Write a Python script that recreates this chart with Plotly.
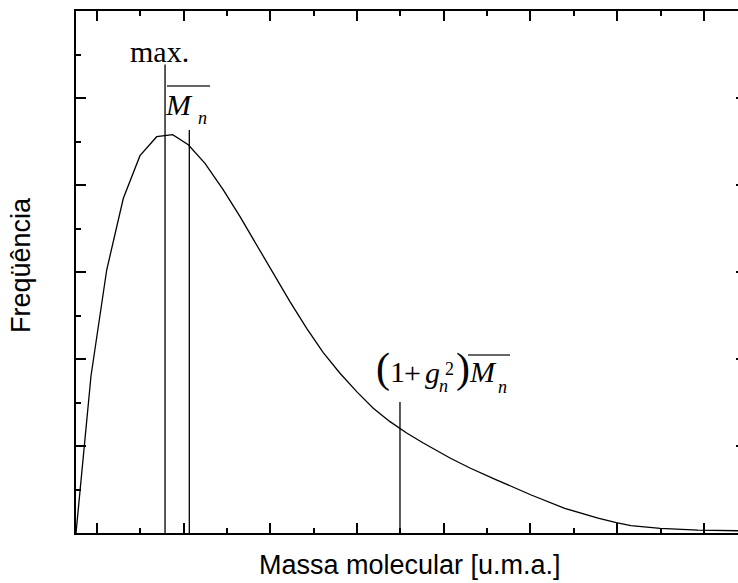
import plotly.graph_objects as go

# ---- data (schematic molecular-mass distribution) ----
mass = [0.0, 0.173, 0.354, 0.546, 0.738, 0.931, 1.115, 1.295, 1.488, 1.699, 1.892,
        2.084, 2.276, 2.468, 2.661, 2.852, 3.045, 3.238, 3.429, 3.622, 3.814, 4.006,
        4.314, 4.544, 4.829, 5.251, 5.637, 6.021, 6.232, 6.401, 6.739, 7.174, 7.636]
freq = [0.0, 1.805, 3.023, 3.847, 4.337, 4.555, 4.578, 4.463, 4.249, 3.943, 3.636,
        3.310, 2.985, 2.659, 2.353, 2.073, 1.836, 1.625, 1.434, 1.280, 1.149, 1.034,
        0.862, 0.747, 0.620, 0.437, 0.284, 0.170, 0.119, 0.084, 0.054, 0.034, 0.026]

ref_names = ["max.", "Mn", "(1+g2)Mn"]
ref_mass = [1.027, 1.307, 3.737]
ref_top = [5.385, 4.632, 1.506]

x_major = [0.242, 1.242, 2.242, 3.242, 4.242, 5.242, 6.242, 7.242]
x_minor = [0.742, 1.742, 2.742, 3.742, 4.742, 5.742, 6.742]
y_major = [1, 2, 3, 4, 5]
y_minor = [0.5, 1.5, 2.5, 3.5, 4.5, 5.5]

# ---- layout geometry ----
W, H = 738, 583
L, R, T, B = 76, 0, 11, 50
XR = [0.0, 7.636]
YR = [0.0, 6.0]


def px2x(px):
    return XR[0] + (px - L) / (W - L - R) * (XR[1] - XR[0])


def py2y(py):
    return YR[0] + (H - B - py) / (H - B - T) * (YR[1] - YR[0])


fig = go.Figure()

fig.add_trace(go.Scatter(x=mass, y=freq, mode="lines",
                         line=dict(color="black", width=1.3),
                         showlegend=False, hoverinfo="skip"))

vx, vy = [], []
for m, t in zip(ref_mass, ref_top):
    vx += [m, m, None]
    vy += [YR[0], t, None]
fig.add_trace(go.Scatter(x=vx, y=vy, mode="lines",
                         line=dict(color="black", width=1.3),
                         showlegend=False, hoverinfo="skip"))

# invisible traces to activate the top and right tick axes
fig.add_trace(go.Scatter(x=[None], y=[None], yaxis="y2", mode="lines",
                         showlegend=False, hoverinfo="skip"))
fig.add_trace(go.Scatter(x=[None], y=[None], xaxis="x2", mode="lines",
                         showlegend=False, hoverinfo="skip"))

SERIF = "Liberation Serif"
SANS = "Liberation Sans"
ann = []


def label(text, pos, base, size, anchor="center", ref=None):
    ref = size if ref is None else ref
    cy = base - 0.3375 * ref
    ann.append(dict(text=text, x=px2x(pos), y=py2y(cy), xref="x", yref="y",
                    xanchor=anchor, yanchor="middle", showarrow=False,
                    borderpad=0, borderwidth=0,
                    font=dict(family=SERIF, size=size, color="black")))


# max.
label("max.", 159, 62, 30)
# M_n (overline drawn as a shape)
label("<i>M</i>", 178.5, 115, 30)
label("<i>n</i>", 202.5, 124, 18)
# (1 + g_n^2) M_n
label("<span style='font-size:42px'>(</span>1", 376, 383, 30, anchor="left", ref=42)
label("+", 412.5, 383, 30)
label("<i>g</i>", 432, 383, 30)
label("2", 449, 375, 18)
label("<i>n</i>", 443.5, 392, 18)
label("<span style='font-size:42px'>)</span><i>M</i>", 456, 383, 30,
      anchor="left", ref=42)
label("<i>n</i>", 502.5, 393, 18)

# axis titles
ann.append(dict(text="Massa molecular [u.m.a.]", x=(410 - L) / (W - L - R),
                y=(H - B - 565) / (H - B - T), xref="paper", yref="paper",
                xanchor="center", yanchor="middle", showarrow=False,
                font=dict(family=SANS, size=27, color="black")))
ann.append(dict(text="Freqüência", x=(21 - L) / (W - L - R),
                y=(H - B - 265) / (H - B - T), xref="paper", yref="paper",
                xanchor="center", yanchor="middle", showarrow=False, textangle=-90,
                font=dict(family=SANS, size=27, color="black")))

shapes = [
    dict(type="line", xref="x", yref="y", x0=px2x(167), x1=px2x(210),
         y0=py2y(86), y1=py2y(86), line=dict(color="#333", width=1.3)),
    dict(type="line", xref="x", yref="y", x0=px2x(468), x1=px2x(510),
         y0=py2y(355), y1=py2y(355), line=dict(color="#333", width=1.3)),
]

xcommon = dict(range=XR, showgrid=False, zeroline=False, showticklabels=False,
               showline=True, linecolor="black", linewidth=2,
               ticks="inside", ticklen=10, tickwidth=1.5, tickcolor="black",
               tickmode="array", tickvals=x_major,
               minor=dict(ticks="inside", ticklen=5, tickwidth=1.5,
                          tickcolor="black", tickmode="array", tickvals=x_minor,
                          showgrid=False))

fig.update_layout(
    width=W, height=H,
    margin=dict(l=L, r=R, t=T, b=B, pad=0),
    paper_bgcolor="white", plot_bgcolor="white",
    annotations=ann, shapes=shapes,
    xaxis=dict(**xcommon, side="bottom", mirror=False),
    xaxis2=dict(**xcommon, side="top", overlaying="x", anchor="y"),
    yaxis=dict(range=YR, showgrid=False, zeroline=False, showticklabels=False,
               showline=True, linecolor="black", linewidth=2, mirror=False,
               ticks="inside", ticklen=10, tickwidth=1.5, tickcolor="black",
               tickmode="array", tickvals=y_major,
               minor=dict(ticks="inside", ticklen=5, tickwidth=1.5,
                          tickcolor="black", tickmode="array", tickvals=y_minor,
                          showgrid=False)),
    yaxis2=dict(range=YR, overlaying="y", side="right", showgrid=False,
                zeroline=False, showticklabels=False, showline=False,
                ticks="inside", ticklen=2, tickwidth=1.5, tickcolor="black",
                tickmode="array", tickvals=y_major),
)

fig.write_html("out.html")
